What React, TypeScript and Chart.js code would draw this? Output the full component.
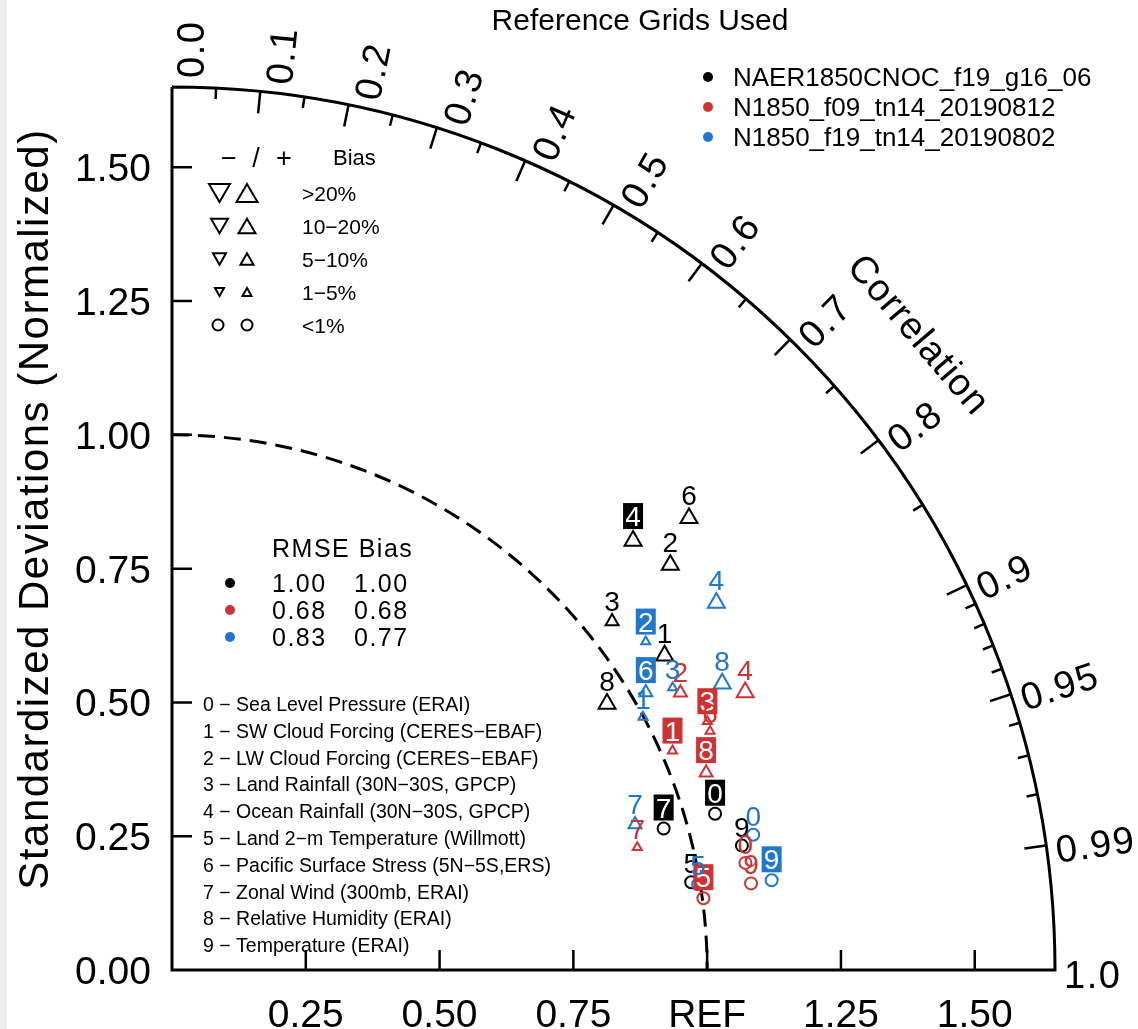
import React, { useEffect, useRef } from 'react';
import { Chart, registerables } from 'chart.js';

Chart.register(...registerables);

const FONT = '"Liberation Sans", Arial, sans-serif';
const AXIS_MAX = 1.65;

// ---------- data ----------
const seriesNames = ['NAER1850CNOC_f19_g16_06', 'N1850_f09_tn14_20190812', 'N1850_f19_tn14_20190802'];
const seriesColors = ['#000000', '#d03232', '#1f77cf'];
const caseIds = ['0', '1', '2', '3', '4', '5', '6', '7', '8', '9'];
const variableNames = [
  'Sea Level Pressure (ERAI)',
  'SW Cloud Forcing (CERES\u2212EBAF)',
  'LW Cloud Forcing (CERES\u2212EBAF)',
  'Land Rainfall (30N\u221230S, GPCP)',
  'Ocean Rainfall (30N\u221230S, GPCP)',
  'Land 2\u2212m Temperature (Willmott)',
  'Pacific Surface Stress (5N\u22125S,ERS)',
  'Zonal Wind (300mb, ERAI)',
  'Relative Humidity (ERAI)',
  'Temperature (ERAI)',
];

// normalized standard deviation and correlation per case
const stdBlack = [1.056, 1.092, 1.2, 1.049, 1.177, 0.984, 1.283, 0.956, 0.953, 1.09];
const corrBlack = [0.961, 0.843, 0.776, 0.784, 0.732, 0.986, 0.753, 0.961, 0.853, 0.977];
const stdRed = [1.09, 1.021, 1.082, 1.103, 1.19, 1.002, 1.1, 0.899, 1.064, 1.094];
const corrRed = [0.983, 0.916, 0.878, 0.907, 0.9, 0.991, 0.914, 0.967, 0.938, 0.989];
const stdBlue = [1.115, 0.999, 1.077, 1.074, 1.227, 0.996, 1.026, 0.907, 1.159, 1.133];
const corrBlue = [0.974, 0.881, 0.822, 0.871, 0.829, 0.987, 0.863, 0.954, 0.887, 0.989];

// bias class: 0 <1%, 1 1-5%, 2 5-10%, 3 10-20%, 4 >20% ; sign +1 positive, -1 negative
const biasClassBlack = [0, 3, 3, 2, 3, 0, 3, 0, 3, 0];
const biasClassRed = [0, 1, 2, 1, 3, 0, 1, 1, 2, 0];
const biasClassBlue = [0, 1, 1, 1, 3, 0, 2, 2, 3, 0];
const biasSignBlack = [1, 1, 1, 1, 1, 1, 1, 1, 1, 1];
const biasSignRed = [1, 1, 1, 1, 1, 1, 1, 1, 1, 1];
const biasSignBlue = [1, 1, 1, 1, 1, 1, 1, 1, 1, 1];

// highlighted (boxed) labels
const boxedBlack = [1, 0, 0, 0, 1, 0, 0, 1, 0, 0];
const boxedRed = [0, 1, 0, 1, 0, 1, 0, 0, 1, 0];
const boxedBlue = [0, 0, 1, 0, 0, 0, 1, 0, 0, 1];

const rmseValues = ['1.00', '0.68', '0.83'];
const biasValues = ['1.00', '0.68', '0.77'];

const biasLegendLabels = ['>20%', '10\u221220%', '5\u221210%', '1\u22125%', '<1%'];

const yTickValues = [0, 0.25, 0.5, 0.75, 1.0, 1.25, 1.5];
const yTickLabels = ['0.00', '0.25', '0.50', '0.75', '1.00', '1.25', '1.50'];
const xTickValues = [0.25, 0.5, 0.75, 1.0, 1.25, 1.5];
const xTickLabels = ['0.25', '0.50', '0.75', 'REF', '1.25', '1.50'];
const corrLabelValues = [0, 0.1, 0.2, 0.3, 0.4, 0.5, 0.6, 0.7, 0.8, 0.9, 0.95, 0.99, 1.0];
const corrLabels = ['0.0', '0.1', '0.2', '0.3', '0.4', '0.5', '0.6', '0.7', '0.8', '0.9', '0.95', '0.99', '1.0'];
const corrMajorTicks = [0.1, 0.2, 0.3, 0.4, 0.5, 0.6, 0.7, 0.8, 0.9, 0.95, 0.99];
const corrMinorTicks = [0.05, 0.15, 0.25, 0.35, 0.45, 0.55, 0.65, 0.75, 0.85, 0.91, 0.92, 0.93, 0.94, 0.96, 0.97, 0.98];

const allStd = [stdBlack, stdRed, stdBlue];
const allCorr = [corrBlack, corrRed, corrBlue];
const allBiasClass = [biasClassBlack, biasClassRed, biasClassBlue];
const allBiasSign = [biasSignBlack, biasSignRed, biasSignBlue];
const allBoxed = [boxedBlack, boxedRed, boxedBlue];

// marker sizes (style)
const triRadius = [0, 5.2, 7.5, 9.8, 12.1];
const circleRadius = 6;
const legendTriWidths = [21, 17, 13, 9];

function markerRadius(cls: number) {
  return cls === 0 ? circleRadius : triRadius[cls];
}

function drawTri(ctx: CanvasRenderingContext2D, x: number, y: number, w: number, down: boolean) {
  const h = (w * Math.sqrt(3)) / 2;
  ctx.beginPath();
  if (!down) {
    ctx.moveTo(x, y - h / 2);
    ctx.lineTo(x + w / 2, y + h / 2);
    ctx.lineTo(x - w / 2, y + h / 2);
  } else {
    ctx.moveTo(x, y + h / 2);
    ctx.lineTo(x + w / 2, y - h / 2);
    ctx.lineTo(x - w / 2, y - h / 2);
  }
  ctx.closePath();
  ctx.stroke();
}

const taylorPlugin = {
  id: 'taylorFrame',
  beforeDatasetsDraw(chart: any) {
    const ctx: CanvasRenderingContext2D = chart.ctx;
    const xs = chart.scales.x;
    const ys = chart.scales.y;
    const ox = xs.getPixelForValue(0);
    const oy = ys.getPixelForValue(0);
    const R = xs.getPixelForValue(AXIS_MAX) - ox;
    const unit = xs.getPixelForValue(1) - ox;
    ctx.save();

    // left grey strip of the screenshot
    ctx.fillStyle = '#efefef';
    ctx.fillRect(0, 0, 7, chart.height);

    ctx.strokeStyle = '#000';
    ctx.fillStyle = '#000';
    ctx.lineCap = 'butt';

    // axes + outer arc
    ctx.lineWidth = 3;
    ctx.beginPath();
    ctx.moveTo(ox, ys.getPixelForValue(AXIS_MAX));
    ctx.lineTo(ox, oy);
    ctx.lineTo(xs.getPixelForValue(AXIS_MAX), oy);
    ctx.arc(ox, oy, R, 0, -Math.PI / 2, true);
    ctx.stroke();

    // axis ticks (inward)
    ctx.lineWidth = 2.5;
    ctx.beginPath();
    yTickValues.forEach((v) => {
      if (v === 0) return;
      const py = ys.getPixelForValue(v);
      ctx.moveTo(ox, py);
      ctx.lineTo(ox + 20, py);
    });
    xTickValues.forEach((v) => {
      const px = xs.getPixelForValue(v);
      ctx.moveTo(px, oy);
      ctx.lineTo(px, oy - 20);
    });
    // correlation ticks
    const tick = (c: number, len: number) => {
      const t = Math.acos(c);
      ctx.moveTo(ox + R * Math.cos(t), oy - R * Math.sin(t));
      ctx.lineTo(ox + (R - len) * Math.cos(t), oy - (R - len) * Math.sin(t));
    };
    corrMajorTicks.forEach((c) => tick(c, 22));
    corrMinorTicks.forEach((c) => tick(c, 11));
    ctx.stroke();

    // dashed REF circle
    ctx.lineWidth = 3;
    ctx.setLineDash([17, 9]);
    ctx.beginPath();
    ctx.arc(ox, oy, unit, -Math.PI / 2, 0, false);
    ctx.stroke();
    ctx.setLineDash([]);

    // y tick labels
    ctx.font = `39px ${FONT}`;
    ctx.textAlign = 'right';
    ctx.textBaseline = 'alphabetic';
    yTickValues.forEach((v, i) => {
      ctx.fillText(yTickLabels[i], ox - 21, ys.getPixelForValue(v) + 14);
    });
    // x tick labels
    ctx.textAlign = 'center';
    xTickValues.forEach((v, i) => {
      ctx.fillText(xTickLabels[i], xs.getPixelForValue(v), oy + 57);
    });

    // correlation labels
    ctx.font = `38px ${FONT}`;
    (ctx as any).letterSpacing = '1.5px';
    ctx.textAlign = 'left';
    corrLabelValues.forEach((c, i) => {
      const t = Math.acos(c);
      const d = 4 + 14 * (t / (Math.PI / 2));
      const bx = ox + (R + 9) * Math.cos(t) + d * Math.sin(t);
      const by = oy - (R + 9) * Math.sin(t) + d * Math.cos(t);
      ctx.save();
      ctx.translate(bx, by);
      ctx.rotate(-t);
      ctx.fillText(corrLabels[i], 0, 13.6);
      ctx.restore();
    });
    (ctx as any).letterSpacing = '0px';

    // "Correlation" title
    {
      const phi = (40.4 * Math.PI) / 180;
      const rr = R + 99;
      ctx.save();
      ctx.translate(ox + rr * Math.cos(phi), oy - rr * Math.sin(phi));
      ctx.rotate(Math.PI / 2 - phi);
      ctx.textAlign = 'center';
      (ctx as any).letterSpacing = '1px';
      ctx.fillText('Correlation', 0, 13.6);
      ctx.restore();
    }

    // y-axis title
    ctx.save();
    ctx.font = `42px ${FONT}`;
    (ctx as any).letterSpacing = '1.5px';
    ctx.translate(33, 509);
    ctx.rotate(-Math.PI / 2);
    ctx.textAlign = 'center';
    ctx.fillText('Standardized Deviations (Normalized)', 0, 15);
    ctx.restore();

    // top title
    ctx.font = `30px ${FONT}`;
    ctx.textAlign = 'center';
    ctx.fillText('Reference Grids Used', 640, 30);

    // series legend (top right)
    ctx.font = `26px ${FONT}`;
    ctx.textAlign = 'left';
    seriesNames.forEach((n, i) => {
      const yy = 77 + i * 30;
      ctx.fillStyle = seriesColors[i];
      ctx.beginPath();
      ctx.arc(708, yy, 5, 0, Math.PI * 2);
      ctx.fill();
      ctx.fillStyle = '#000';
      ctx.fillText(n, 733, yy + 9.3);
    });

    // bias size legend
    ctx.font = `27px ${FONT}`;
    ctx.textAlign = 'center';
    ctx.fillText('\u2212', 229, 167);
    ctx.fillText('/', 256, 167);
    ctx.fillText('+', 284, 167);
    ctx.font = `22px ${FONT}`;
    ctx.textAlign = 'left';
    ctx.fillText('Bias', 333, 165);
    ctx.font = `21px ${FONT}`;
    ctx.lineWidth = 2;
    ctx.strokeStyle = '#000';
    biasLegendLabels.forEach((lab, i) => {
      const yy = 193 + i * 33;
      if (i < 4) {
        drawTri(ctx, 219.5, yy, legendTriWidths[i], true);
        drawTri(ctx, 247, yy, legendTriWidths[i], false);
      } else {
        ctx.beginPath();
        ctx.arc(218, yy, 5.5, 0, Math.PI * 2);
        ctx.stroke();
        ctx.beginPath();
        ctx.arc(247, yy, 5.5, 0, Math.PI * 2);
        ctx.stroke();
      }
      ctx.fillText(lab, 302, yy + 7.5);
    });

    // RMSE / Bias legend
    ctx.font = `25px ${FONT}`;
    (ctx as any).letterSpacing = '1.5px';
    ctx.textAlign = 'left';
    ctx.fillText('RMSE Bias', 272, 557);
    rmseValues.forEach((v, i) => {
      const yy = 583 + i * 27;
      ctx.fillStyle = seriesColors[i];
      ctx.beginPath();
      ctx.arc(230, yy, 5, 0, Math.PI * 2);
      ctx.fill();
      ctx.fillStyle = '#000';
      ctx.fillText(v, 272, yy + 9);
      ctx.fillText(biasValues[i], 354, yy + 9);
    });
    (ctx as any).letterSpacing = '0px';

    // variable list
    ctx.font = `19.5px ${FONT}`;
    variableNames.forEach((n, i) => {
      ctx.fillText(`${caseIds[i]} \u2212 ${n}`, 203, 704 + i * 26.8 + 7);
    });

    ctx.restore();
  },
  afterDatasetsDraw(chart: any) {
    const ctx: CanvasRenderingContext2D = chart.ctx;
    ctx.save();
    ctx.font = `28px ${FONT}`;
    ctx.textAlign = 'center';
    ctx.textBaseline = 'alphabetic';
    for (let s = 0; s < 3; s++) {
      const meta = chart.getDatasetMeta(s);
      meta.data.forEach((el: any, i: number) => {
        const r = markerRadius(allBiasClass[s][i]);
        const x = el.x;
        const y = el.y;
        if (allBoxed[s][i]) {
          const cy = y - r - 15;
          ctx.fillStyle = seriesColors[s];
          ctx.fillRect(x - 10, cy - 13, 20, 26);
          ctx.fillStyle = '#ffffff';
          ctx.fillText(caseIds[i], x, cy + 10);
        } else {
          const cy = y - r - 13;
          ctx.fillStyle = seriesColors[s];
          ctx.fillText(caseIds[i], x, cy + 10);
        }
      });
    }
    ctx.restore();
  },
};

export default function App() {
  const ref = useRef<HTMLCanvasElement | null>(null);
  useEffect(() => {
    if (!ref.current) return;
    const datasets = [0, 1, 2].map((s) => ({
      label: seriesNames[s],
      data: allStd[s].map((sd, i) => ({
        x: sd * allCorr[s][i],
        y: sd * Math.sqrt(1 - allCorr[s][i] * allCorr[s][i]),
      })),
      showLine: false,
      order: 3 - s,
      pointStyle: allBiasClass[s].map((c) => (c === 0 ? 'circle' : 'triangle')),
      pointRadius: allBiasClass[s].map((c) => markerRadius(c)),
      pointHoverRadius: allBiasClass[s].map((c) => markerRadius(c)),
      pointRotation: allBiasSign[s].map((g) => (g < 0 ? 180 : 0)),
      pointBorderColor: seriesColors[s],
      pointBackgroundColor: 'rgba(0,0,0,0)',
      pointBorderWidth: 2,
      pointHoverBorderWidth: 2,
    }));
    const chart = new Chart(ref.current, {
      type: 'scatter',
      data: { datasets } as any,
      options: {
        animation: false,
        responsive: false,
        devicePixelRatio: 1,
        events: [],
        layout: { padding: { left: 172, right: 83, top: 87, bottom: 59 } },
        scales: {
          x: { type: 'linear', min: 0, max: AXIS_MAX, display: false },
          y: { type: 'linear', min: 0, max: AXIS_MAX, display: false },
        },
        plugins: { legend: { display: false }, tooltip: { enabled: false } },
      } as any,
      plugins: [taylorPlugin as any],
    });
    return () => chart.destroy();
  }, []);
  return (
    <div style={{ position: 'absolute', left: 0, top: 0, width: 1138, height: 1029, background: '#fff' }}>
      <canvas ref={ref} width={1138} height={1029} style={{ display: 'block' }} />
    </div>
  );
}
